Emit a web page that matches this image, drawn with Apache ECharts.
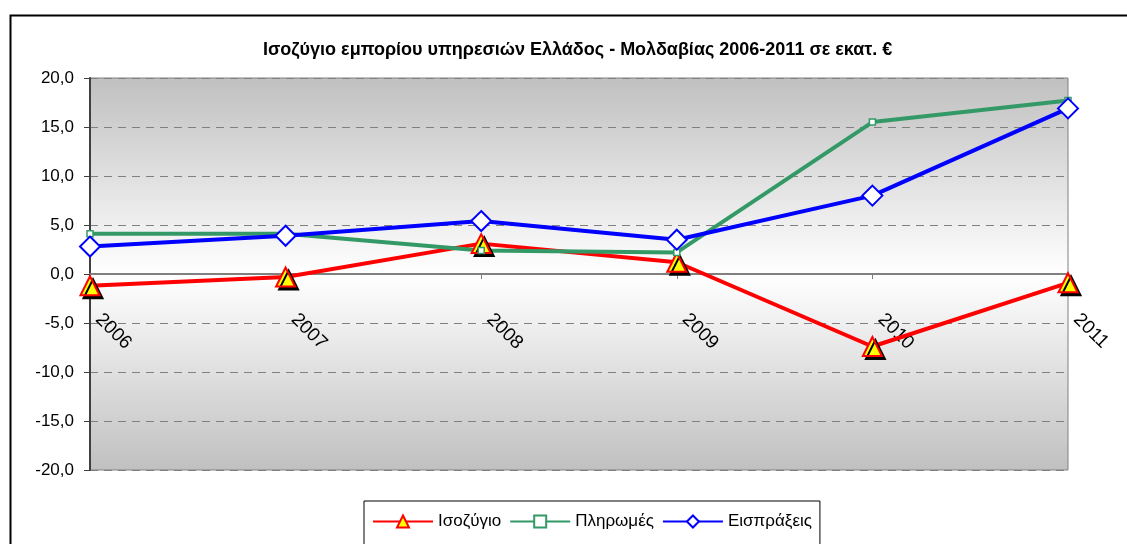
<!DOCTYPE html>
<html>
<head>
<meta charset="utf-8">
<script src="https://cdn.jsdelivr.net/npm/echarts@6/dist/echarts.min.js"></script>
<style>
  html, body { margin: 0; padding: 0; background: #fff; }
  #chart { width: 1127px; height: 544px; }
</style>
</head>
<body>
<div id="chart"></div>
<script>
const years = ['2006', '2007', '2008', '2009', '2010', '2011']
const balance = [-1.2, -0.3, 3.1, 1.2, -7.4, -0.9]
const payments = [4.1, 4.1, 2.4, 2.2, 15.5, 17.7]
const receipts = [2.8, 3.9, 5.4, 3.5, 8.0, 16.9]

const font = '"Liberation Sans", Arial, sans-serif'
const chart = echarts.init(document.getElementById('chart'))

// plot area height is 392px, the zero line sits in the middle
const zeroOffset = -196

chart.setOption({
  animation: false,
  textStyle: { fontFamily: font },
  title: {
    text: 'Ισοζύγιο εμπορίου υπηρεσιών Ελλάδος - Μολδαβίας 2006-2011 σε εκατ. €',
    left: 258,
    top: 36,
    textStyle: { fontSize: 18, fontWeight: 'bold', color: '#000', fontFamily: font }
  },
  graphic: [{
    type: 'rect',
    shape: { x: 10.5, y: 15.5, width: 1200, height: 600 },
    style: { fill: 'none', stroke: '#000', lineWidth: 2 },
    silent: true
  }],
  grid: {
    left: 90,
    right: 59,
    top: 78,
    bottom: 74,
    show: true,
    borderColor: '#808080',
    borderWidth: 1,
    backgroundColor: {
      type: 'linear', x: 0, y: 0, x2: 0, y2: 1,
      colorStops: [
        { offset: 0, color: '#c0c0c0' },
        { offset: 0.5, color: '#ffffff' },
        { offset: 1, color: '#c0c0c0' }
      ]
    }
  },
  legend: {
    top: 501,
    left: 364,
    selectedMode: false,
    borderColor: '#000',
    borderWidth: 1,
    padding: [12, 8, 20, 8],
    itemWidth: 60,
    itemHeight: 15,
    itemGap: 8,
    textStyle: { fontSize: 17, color: '#000', fontFamily: font },
    data: ['Ισοζύγιο', 'Πληρωμές', 'Εισπράξεις']
  },
  xAxis: {
    type: 'category',
    data: years,
    boundaryGap: false,
    position: 'bottom',
    offset: zeroOffset,
    axisLine: { onZero: false, lineStyle: { color: '#808080', width: 2 } },
    axisTick: { show: true, length: 5, lineStyle: { color: '#808080' } },
    axisLabel: {
      rotate: -45, margin: 34, padding: [0, 0, 0, 12],
      fontSize: 19, color: '#000', fontFamily: font
    }
  },
  yAxis: {
    type: 'value',
    min: -20,
    max: 20,
    interval: 5,
    axisLine: { show: true, lineStyle: { color: '#404040', width: 2 } },
    axisTick: { show: true, length: 6, lineStyle: { color: '#404040' } },
    axisLabel: {
      fontSize: 17, color: '#000', margin: 16, fontFamily: font,
      formatter: v => v.toFixed(1).replace('.', ',')
    },
    splitLine: { lineStyle: { color: '#808080', type: [8, 6] } }
  },
  series: [{
    name: 'Ισοζύγιο',
    type: 'line',
    data: balance,
    color: '#ff0000',
    lineStyle: { width: 4, color: '#ff0000' },
    symbol: 'triangle',
    symbolSize: 19,
    itemStyle: {
      color: '#ffff00', borderColor: '#ff0000', borderWidth: 2,
      shadowColor: '#000', shadowOffsetX: 3, shadowOffsetY: 3, shadowBlur: 0
    }
  },
  {
    name: 'Πληρωμές',
    type: 'line',
    data: payments,
    color: '#339966',
    lineStyle: { width: 4, color: '#339966' },
    symbol: 'rect',
    symbolSize: 6,
    itemStyle: { color: '#ffffff', borderColor: '#339966', borderWidth: 1.5 }
  },
  {
    name: 'Εισπράξεις',
    type: 'line',
    data: receipts,
    color: '#0000ff',
    lineStyle: { width: 4, color: '#0000ff' },
    symbol: 'diamond',
    symbolSize: 20,
    itemStyle: { color: '#ffffff', borderColor: '#0000ff', borderWidth: 2 }
  }]
})
</script>
</body>
</html>
